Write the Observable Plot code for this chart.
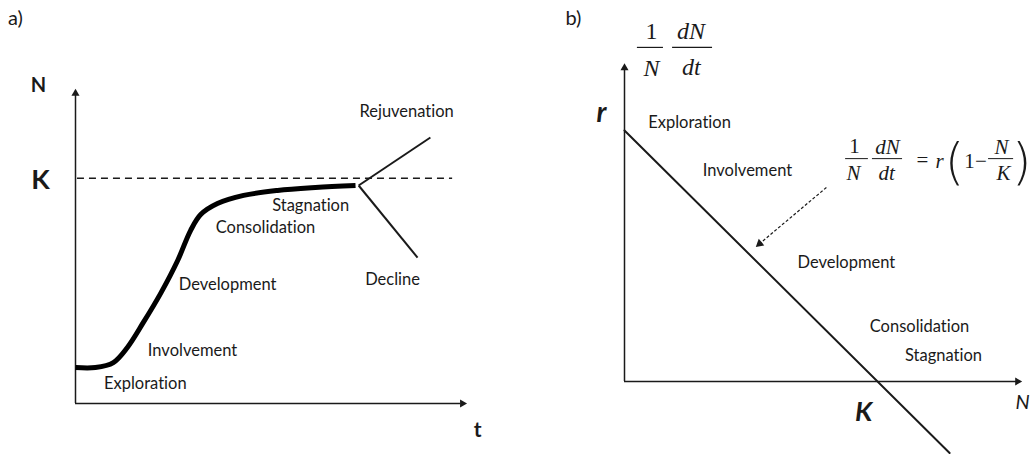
<!DOCTYPE html>
<html>
<head>
<meta charset="utf-8">
<script src="https://cdn.jsdelivr.net/npm/d3@7"></script>
<script src="https://cdn.jsdelivr.net/npm/@observablehq/plot@0.6"></script>
<style>
  html, body { margin: 0; padding: 0; background: #fff; }
  #wrap { display: flex; flex-direction: row; width: 1032px; height: 455px; }
  #wrap svg { display: block; font-variant-ligatures: none; font-feature-settings: "liga" 0, "clig" 0; }
</style>
</head>
<body>
<div id="wrap"></div>
<script>
// ---------- Panel a: tourism area life cycle (N vs t) ----------
const curveT = [0, 0.51, 0.97, 1.33, 1.74, 2.18, 2.62, 2.95, 3.21, 3.64, 4.31, 5.18, 6.15, 7.18];
const curveN = [16.0, 16.0, 18.2, 24.9, 36.0, 48.8, 63.5, 76.8, 83.9, 88.8, 92.4, 94.6, 95.9, 96.8];
const carryingK = 100;
const branchStart = {t: 7.26, N: 96.8};
const branchNames = ["Rejuvenation", "Decline"];
const branchEndT = [9.10, 8.77];
const branchEndN = [118.1, 64.8];
const stageNamesA = ["Exploration", "Involvement", "Development", "Consolidation", "Stagnation", "Rejuvenation", "Decline"];
const stageLabelT = [1.79, 3.0, 3.90, 4.87, 6.03, 8.49, 8.13];
const stageLabelN = [8.6, 23.5, 52.6, 78.1, 88.0, 129.7, 55.1];
const axisMaxT = 10, axisMaxN = 139;

// ---------- Panel b: per-capita growth rate vs N ----------
const lineN = [0, 128.5];
const lineG = [1, -0.285];
const stageNamesB = ["Exploration", "Involvement", "Development", "Consolidation", "Stagnation"];
const stageLabelNB = [25.7, 48.6, 87.7, 116.6, 126.1];
const stageLabelGB = [1.032, 0.841, 0.474, 0.219, 0.104];
const axisMaxNB = 155.7, axisMaxG = 1.259;

const curve = curveT.map((t, i) => ({t, N: curveN[i]}));
const branches = branchNames.map((name, i) => ({name, t1: branchStart.t, N1: branchStart.N, t2: branchEndT[i], N2: branchEndN[i]}));
const labelsA = stageNamesA.map((s, i) => ({s, t: stageLabelT[i], N: stageLabelN[i]}));
const labelsB = stageNamesB.map((s, i) => ({s, N: stageLabelNB[i], g: stageLabelGB[i]}));
const lineB = lineN.map((N, i) => ({N, g: lineG[i]}));

const sans = "Lato, 'Open Sans', sans-serif";
const serif = "'Liberation Serif', 'DejaVu Serif', serif";
const ink = "#1a1a1a";
const labelSize = 16.5;

const plotA = Plot.plot({
  width: 516, height: 455,
  margin: 0,
  x: {domain: [0, 10], range: [75, 465], axis: null},
  y: {domain: [0, 100], range: [403, 177.8], axis: null},
  marks: [
    // axes
    Plot.ruleY([0], {x1: 0, x2: axisMaxT - 0.12, stroke: ink, strokeWidth: 1.5}),
    Plot.ruleX([0], {y1: 0, y2: axisMaxN - 1.5, stroke: ink, strokeWidth: 1.5}),
    Plot.dot([{t: axisMaxT - 0.08, N: 0}], {x: "t", y: "N", symbol: "triangle", r: 3, rotate: 90, fill: ink, stroke: null}),
    Plot.dot([{t: 0, N: axisMaxN - 1.3}], {x: "t", y: "N", symbol: "triangle", r: 3, fill: ink, stroke: null}),
    // carrying capacity
    Plot.ruleY([carryingK], {x1: 0.05, x2: 9.67, stroke: ink, strokeWidth: 1.5, strokeDasharray: "7,5"}),
    // branches
    Plot.link(branches, {x1: "t1", y1: "N1", x2: "t2", y2: "N2", stroke: ink, strokeWidth: 2}),
    // life cycle curve
    Plot.line(curve, {x: "t", y: "N", curve: "catmull-rom", stroke: "#000", strokeWidth: 5, strokeLinecap: "butt"}),
    // stage labels
    Plot.text(labelsA, {x: "t", y: "N", text: "s", fontSize: labelSize, fontFamily: sans, fill: ink}),
    // axis labels
    Plot.text([{s: "a)", t: -1.54, N: 171}], {x: "t", y: "N", text: "s", fontSize: 20, fontFamily: sans, fill: ink}),
    Plot.text([{s: "N", t: -0.95, N: 141.2}], {x: "t", y: "N", text: "s", fontSize: 20, fontWeight: "bold", fontFamily: sans, fill: ink}),
    Plot.text([{s: "K", t: -0.90, N: 99.0}], {x: "t", y: "N", text: "s", fontSize: 27, fontWeight: "bold", fontFamily: sans, fill: ink}),
    Plot.text([{s: "t", t: 10.31, N: -12.0}], {x: "t", y: "N", text: "s", fontSize: 21, fontWeight: "bold", fontFamily: sans, fill: ink})
  ]
});

// formula pieces for panel b
const fTexts = ["1", "N", "dN", "dt"];
const fN = [10.7, 10.7, 26.3, 26.4];
const fG = [1.394, 1.249, 1.394, 1.251];
const fItalic = [false, true, true, true];
const fBarN1 = [5.1, 19.0], fBarN2 = [15.4, 34.8], fBarG = [1.331, 1.331];

const eTexts = ["1", "N", "dN", "dt", "=", "r", "1", "−", "N", "K"];
const eN = [90.9, 90.5, 104.0, 103.6, 117.8, 124.5, 136.4, 140.9, 149.0, 149.8];
const eG = [0.938, 0.829, 0.932, 0.829, 0.880, 0.876, 0.876, 0.878, 0.932, 0.829];
const eItalic = [false, true, true, true, false, true, false, false, true, true];
const eBarN1 = [87.4, 98.0, 143.9], eBarN2 = [96.4, 109.9, 153.8], eBarG = [0.888, 0.888, 0.888];
const eParens = ["(", ")"], eParenN = [130.4, 157.0], eParenG = [0.872, 0.872];

const formulaTop = fTexts.map((s, i) => ({s, N: fN[i], g: fG[i], it: fItalic[i]}));
const formulaBarsTop = fBarN1.map((n, i) => ({N1: n, N2: fBarN2[i], g: fBarG[i]}));
const formulaEq = eTexts.map((s, i) => ({s, N: eN[i], g: eG[i], it: eItalic[i]}));
const formulaBarsEq = eBarN1.map((n, i) => ({N1: n, N2: eBarN2[i], g: eBarG[i]}));
const parens = eParens.map((s, i) => ({s, N: eParenN[i], g: eParenG[i]}));
const pointer = [{N1: 79.8, g1: 0.773, N2: 53.4, g2: 0.549}];

const plotB = Plot.plot({
  width: 516, height: 455,
  margin: 0,
  x: {domain: [0, 100], range: [108, 361], axis: null},
  y: {domain: [0, 1], range: [381, 130], axis: null},
  marks: [
    // axes
    Plot.ruleY([0], {x1: 0, x2: axisMaxNB - 0.5, stroke: ink, strokeWidth: 1.5}),
    Plot.ruleX([0], {y1: 0, y2: axisMaxG - 0.012, stroke: ink, strokeWidth: 1.5}),
    Plot.dot([{N: axisMaxNB - 0.35, g: 0}], {x: "N", y: "g", symbol: "triangle", r: 3, rotate: 90, fill: ink, stroke: null}),
    Plot.dot([{N: 0, g: axisMaxG - 0.01}], {x: "N", y: "g", symbol: "triangle", r: 3, fill: ink, stroke: null}),
    // growth-rate line
    Plot.line(lineB, {x: "N", y: "g", stroke: ink, strokeWidth: 2}),
    // dashed pointer
    Plot.link(pointer, {x1: "N1", y1: "g1", x2: "N2", y2: "g2", stroke: ink, strokeWidth: 1.2, strokeDasharray: "3,2"}),
    Plot.dot(pointer, {x: "N2", y: "g2", symbol: "triangle", r: 3.2, rotate: 230, fill: ink, stroke: null}),
    // stage labels
    Plot.text(labelsB, {x: "N", y: "g", text: "s", fontSize: labelSize, fontFamily: sans, fill: ink}),
    // axis labels
    Plot.text([{s: "b)", N: -20.2, g: 1.446}], {x: "N", y: "g", text: "s", fontSize: 20, fontFamily: sans, fill: ink}),
    Plot.text([{s: "r", N: -9.1, g: 1.068}], {x: "N", y: "g", text: "s", fontSize: 28, fontWeight: "bold", fontStyle: "italic", fontFamily: sans, fill: ink}),
    Plot.text([{s: "K", N: 94.5, g: -0.124}], {x: "N", y: "g", text: "s", fontSize: 27, fontWeight: "bold", fontStyle: "italic", fontFamily: sans, fill: ink}),
    Plot.text([{s: "N", N: 157.3, g: -0.084}], {x: "N", y: "g", text: "s", fontSize: 20, fontStyle: "italic", fontFamily: sans, fill: ink}),
    // y-axis title formula
    Plot.text(formulaTop, {filter: d => d.it, x: "N", y: "g", text: "s", fontStyle: "italic", fontSize: 24, fontFamily: serif, fill: ink}),
    Plot.text(formulaTop, {filter: d => !d.it, x: "N", y: "g", text: "s", fontSize: 24, fontFamily: serif, fill: ink}),
    Plot.ruleY(formulaBarsTop, {x1: "N1", x2: "N2", y: "g", stroke: ink, strokeWidth: 1.2}),
    // logistic equation
    Plot.text(formulaEq, {filter: d => d.it, x: "N", y: "g", text: "s", fontStyle: "italic", fontSize: 21, fontFamily: serif, fill: ink}),
    Plot.text(formulaEq, {filter: d => !d.it, x: "N", y: "g", text: "s", fontSize: 21, fontFamily: serif, fill: ink}),
    Plot.ruleY(formulaBarsEq, {x1: "N1", x2: "N2", y: "g", stroke: ink, strokeWidth: 1}),
    Plot.text(parens, {x: "N", y: "g", text: "s", fontSize: 50, fontFamily: "'DejaVu Sans'", fontWeight: 200, fill: ink})
  ]
});

const wrap = document.getElementById("wrap");
wrap.appendChild(plotA);
wrap.appendChild(plotB);
</script>
</body>
</html>
